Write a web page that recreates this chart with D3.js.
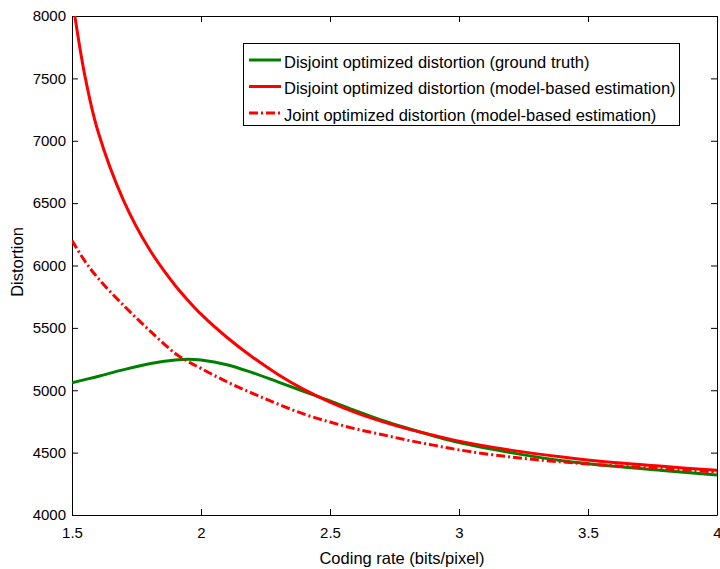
<!DOCTYPE html>
<html><head><meta charset="utf-8">
<script src="https://cdn.jsdelivr.net/npm/d3@7"></script>
<style>body{margin:0;background:#fff}svg{display:block}text{font-family:"Liberation Sans",Arial,sans-serif;fill:#000}</style>
</head><body><svg id="c" width="720" height="569"></svg>
<script>
const xTicks = [1.5, 2, 2.5, 3, 3.5, 4];
const xTickLabels = ["1.5", "2", "2.5", "3", "3.5", "4"];
const yTicks = [4000, 4500, 5000, 5500, 6000, 6500, 7000, 7500, 8000];
const seriesNames = ["Disjoint optimized distortion (ground truth)", "Disjoint optimized distortion (model-based estimation)", "Joint optimized distortion (model-based estimation)"];
const rate = [1.5, 1.55, 1.6, 1.7, 1.8, 1.9, 1.95, 2.0, 2.1, 2.2, 2.3, 2.4, 2.5, 2.6, 2.7, 2.8, 2.9, 3.0, 3.2, 3.4, 3.6, 3.8, 4.0];
const groundTruth = [5060, 5085, 5110, 5165, 5212, 5242, 5248, 5242, 5205, 5140, 5065, 4990, 4915, 4835, 4760, 4695, 4635, 4580, 4500, 4435, 4390, 4355, 4320];
const disjointModel = [8150, 7520, 7080, 6520, 6130, 5840, 5720, 5610, 5425, 5265, 5125, 5005, 4905, 4820, 4750, 4690, 4640, 4592, 4520, 4465, 4420, 4388, 4358];
const jointModel = [6200, 6035, 5900, 5680, 5480, 5295, 5230, 5175, 5068, 4975, 4888, 4808, 4745, 4690, 4645, 4600, 4560, 4522, 4465, 4425, 4395, 4370, 4345];

const svg = d3.select("#c");
const L = 72, R = 717, T = 16, B = 515;
const x = d3.scaleLinear().domain([1.5, 4]).range([L, R]);
const y = d3.scaleLinear().domain([4000, 8000]).range([B, T]);

svg.append("defs").append("clipPath").attr("id", "clip")
  .append("rect").attr("x", L).attr("y", T).attr("width", R - L).attr("height", B - T);

const font = "15px";
const ax = svg.append("g").attr("transform", `translate(0,${B})`)
  .call(d3.axisBottom(x).tickValues(xTicks).tickFormat((d, i) => xTickLabels[i]).tickSizeInner(-6).tickSizeOuter(0).tickPadding(12));
const axT = svg.append("g").attr("transform", `translate(0,${T})`)
  .call(d3.axisTop(x).tickValues(xTicks).tickFormat("").tickSizeInner(-6).tickSizeOuter(0));
const ay = svg.append("g").attr("transform", `translate(${L},0)`)
  .call(d3.axisLeft(y).tickValues(yTicks).tickFormat(d3.format("d")).tickSizeInner(-6).tickSizeOuter(0).tickPadding(6));
const ayR = svg.append("g").attr("transform", `translate(${R},0)`)
  .call(d3.axisRight(y).tickValues(yTicks).tickFormat("").tickSizeInner(-6).tickSizeOuter(0));
[ax, axT, ay, ayR].forEach(g => {
  g.select(".domain").attr("stroke", "#000").attr("stroke-width", 1);
  g.selectAll(".tick line").attr("stroke", "#000");
  g.selectAll("text").style("font-size", font).style("font-family", '"Liberation Sans",Arial,sans-serif').attr("fill", "#000");
});

const line = d3.line().x((d, i) => x(rate[i])).y(d => y(d)).curve(d3.curveCatmullRom.alpha(0.5));
const plot = svg.append("g").attr("clip-path", "url(#clip)");
plot.append("path").datum(groundTruth).attr("d", line).attr("fill", "none").attr("stroke", "#008000").attr("stroke-width", 3);
plot.append("path").datum(disjointModel).attr("d", line).attr("fill", "none").attr("stroke", "#ff0000").attr("stroke-width", 3);
plot.append("path").datum(jointModel).attr("d", line).attr("fill", "none").attr("stroke", "#ff0000").attr("stroke-width", 3).attr("stroke-dasharray", "9,3,2,3");

svg.append("text").attr("x", 402).attr("y", 564).attr("text-anchor", "middle").style("font-size", "16.5px").text("Coding rate (bits/pixel)");
svg.append("text").attr("transform", "translate(23,262) rotate(-90)").attr("text-anchor", "middle").style("font-size", "16.5px").text("Distortion");

const lg = svg.append("g");
lg.append("rect").attr("x", 243.5).attr("y", 43.5).attr("width", 436).attr("height", 82).attr("fill", "#fff").attr("stroke", "#000").attr("stroke-width", 1);
const colors = ["#008000", "#ff0000", "#ff0000"];
const dashes = [null, null, "9,3,2,3"];
seriesNames.forEach((n, i) => {
  const yy = 62 + i * 26.5;
  lg.append("line").attr("x1", 249).attr("x2", 281).attr("y1", yy - 2).attr("y2", yy - 2)
    .attr("stroke", colors[i]).attr("stroke-width", 3).attr("stroke-dasharray", dashes[i]);
  lg.append("text").attr("x", 284).attr("y", yy + 5.5).style("font-size", "16.5px").text(n);
});
</script></body></html>
